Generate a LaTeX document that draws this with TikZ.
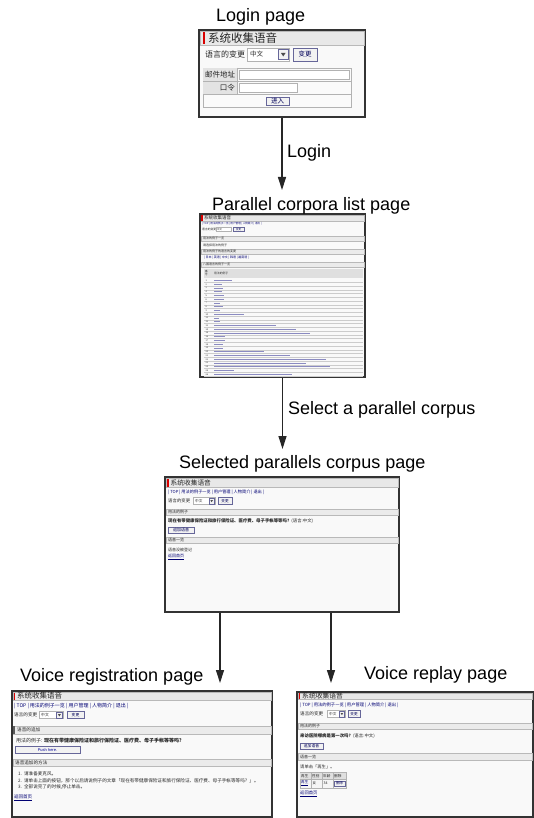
\documentclass[tikz,border=0pt]{standalone}
\usepackage{fontspec}
\setmainfont{Liberation Sans}
\newfontfamily\cjk{Noto Sans CJK SC}
\usetikzlibrary{arrows.meta}
\newcommand\zhs[1]{\cjk\fontsize{#1}{#1}\selectfont}
\tikzset{
 shot/.style={draw=black!80, line width=1.1pt, fill=gray!5, inner sep=0pt},
 tbar/.style={fill=gray!18, draw=gray!55, line width=0.3pt},
 redbar/.style={fill=red!85!black, draw=none},
 band/.style={fill=gray!16, draw=gray!55, line width=0.3pt},
 field/.style={fill=white, draw=gray!60, line width=0.3pt},
 btn/.style={fill=gray!10, draw=blue!20!gray, line width=0.4pt},
 ttl/.style={anchor=west, inner sep=0pt, font=\fontsize{18}{20}\selectfont},
 arr/.style={draw=black!85, line width=1.2pt, -{Triangle[length=13pt,width=8pt]}},
 zh/.style={anchor=west, inner sep=0pt, text=black!85},
 lnk/.style={anchor=west, inner sep=0pt, text=blue!45!black},
 ctr/.style={inner sep=0pt, text=blue!35!black},
 tri/.style={fill=black!70},
 rowlink/.style={draw=blue!30!gray!70, line width=0.8pt},
}
\begin{document}
\begin{tikzpicture}[x=1pt,y=-1pt]
\useasboundingbox[fill=white] (0,0) rectangle (534,818);

% ---------- screenshot frames ----------
\node[shot, minimum width=166pt, minimum height=87pt] (login) at (282,73.5) {};
\node[shot, minimum width=165pt, minimum height=163pt] (list) at (282.5,295.5) {};
\node[shot, minimum width=234pt, minimum height=135pt] (sel) at (282,544.5) {};
\node[shot, minimum width=260pt, minimum height=126pt] (vreg) at (142,754) {};
\node[shot, minimum width=236pt, minimum height=125pt] (vrep) at (415,754.5) {};

% ---------- login page ----------
\path[tbar] (200,31) rectangle (364,45);
\path[redbar] (202.5,32.5) rectangle (205,44);
\node[zh, font=\zhs{11.5}] (lgt) at (208,38) {系统收集语音};
\node[zh, font=\zhs{8}] (lgl) at (205,54.5) {语言的变更};
\path[field] (247,48) rectangle (289,61);
\node[zh, font=\zhs{6.5}] (lgs) at (250,54.5) {中文};
\path[btn] (278.5,49.5) rectangle (288,59.5);
\path[tri] (281,53) -- (285.5,53) -- (283.25,56.5) -- cycle;
\path[btn] (293,48) rectangle (317,61);
\node[ctr, font=\zhs{6.5}] (lgb) at (305,54.5) {变更};
\path[draw=gray!60, line width=0.4pt, fill=gray!4] (203,68) rectangle (351,107);
\path[fill=gray!22] (203,68) rectangle (237,94);
\draw[gray!60, line width=0.4pt] (203,81) -- (351,81) (203,94) -- (351,94) (237,68) -- (237,94);
\node[zh, font=\zhs{7.5}] (lge) at (205,74.5) {邮件地址};
\path[field] (239,70) rectangle (349,79.5);
\node[zh, font=\zhs{7.5}, anchor=east] (lgp) at (235,87.5) {口令};
\path[field] (239,83) rectangle (297,92.5);
\path[btn] (266,97) rectangle (289,105);
\node[ctr, font=\zhs{6.5}] (lgi) at (277.5,101) {进入};

% ---------- parallel corpora list page ----------
\path[tbar] (201,215) rectangle (364,221);
\path[redbar] (201.3,215.3) rectangle (202.6,220.6);
\node[zh, font=\zhs{4.5}] (lst) at (204,218) {系统收集语音};
\node[lnk, font=\zhs{2.6}] (lsn) at (202,224) {| TOP | 用法的例子一览 | 用户管理 | 人物简介 | 退出 |};
\node[zh, font=\zhs{2.8}] (lsl) at (202,229.5) {语言的变更};
\path[field] (216,227.6) rectangle (231,231.4);
\node[zh, font=\zhs{2.4}] (lss) at (217,229.5) {中文};
\path[btn] (233,227.6) rectangle (244,231.4);
\node[ctr, font=\zhs{2.4}] (lsb) at (238.5,229.5) {变更};
\path[band] (201,236) rectangle (364,241);
\node[zh, font=\zhs{3}] (ls1) at (203,238.5) {用法的例子一览};
\node[zh, font=\zhs{3}] (ls2) at (203,245) {请选择用法的例子};
\path[band] (201,249) rectangle (364,254);
\node[zh, font=\zhs{3}] (ls3) at (203,251.5) {用法的例子的语言的变更};
\node[lnk, font=\zhs{3}] (ls4) at (204,258) {| 日本 | 英语 | 中文 | 韩语 | 越南语 |};
\path[band] (201,262) rectangle (364,267);
\node[zh, font=\zhs{3}] (ls5) at (203,264.5) {八国语言的例子一览};
\path[fill=gray!25] (204,268.5) rectangle (363,278);
\node[zh, font=\zhs{2.6}, align=center] (ls6) at (205,273.2) {番\\号};
\node[zh, font=\zhs{2.8}] (ls7) at (214,273.2) {用法的例子};
\foreach \len [count=\i, evaluate=\i as \yy using 280.5+(\i-1)*3.75] in
  {18,8,9,8,10,10,6,9,6,30,5,6,62,82,96,11,11,9,9,50,76,112,92,116,20,78} {
  \draw[gray!40, line width=0.2pt] (204,\yy+1.8) -- (363,\yy+1.8);
  \node[zh, font=\zhs{2.2}] (rn\i) at (205.5,\yy) {\i};
  \draw[rowlink] (214,\yy) -- ++(\len,0);
}

% ---------- selected parallels corpus page ----------
\path[tbar] (166,478) rectangle (398,487);
\path[redbar] (166.8,478.5) rectangle (168.5,486.5);
\node[zh, font=\zhs{6.7}] (sst) at (170.5,482.5) {系统收集语音};
\node[lnk, font=\zhs{4.2}] (ssn) at (168,492) {| TOP | 用法的例子一览 | 用户管理 | 人物简介 | 退出 |};
\node[zh, font=\zhs{4.4}] (ssl) at (168,501) {语言的变更};
\path[field] (193,497.5) rectangle (215,504.5);
\node[zh, font=\zhs{3.6}] (sss) at (195,501) {中文};
\path[btn] (209,498.3) rectangle (214.3,503.7);
\path[tri] (210.3,500) -- (213,500) -- (211.65,502.2) -- cycle;
\path[btn] (218,497.5) rectangle (232,504.5);
\node[ctr, font=\zhs{3.6}] (ssb) at (225,501) {变更};
\path[band] (166,509) rectangle (398,515.5);
\node[zh, font=\zhs{4}] (ss1) at (168,512.3) {用法的例子};
\node[zh, font=\zhs{4.4}] (ss2) at (168,521) {\bfseries 现在有带健康保险证和旅行保险证、医疗费、母子手帐等等吗？\mdseries (语言:中文)};
\path[btn] (168,527) rectangle (194,533.5);
\node[ctr, font=\zhs{4}] (ss3) at (181,530.3) {追加语音};
\path[band] (166,537) rectangle (398,543.5);
\node[zh, font=\zhs{4}] (ss4) at (168,540.3) {语音一览};
\node[zh, font=\zhs{4}] (ss5) at (168,550) {语音没被登记};
\node[lnk, font=\zhs{4}] (ss6) at (168,557) {\underline{返回首页}};

% ---------- voice registration page ----------
\path[tbar] (13,692) rectangle (271,700);
\path[redbar] (13.5,692.5) rectangle (15.2,699.5);
\node[zh, font=\zhs{7.5}] (vgt) at (17,696) {系统收集语音};
\node[lnk, font=\zhs{5}] (vgn) at (14,706) {| TOP | 用法的例子一览 | 用户管理 | 人物简介 | 退出 |};
\node[zh, font=\zhs{4.6}] (vgl) at (14,715) {语言的变更};
\path[field] (39,711.5) rectangle (63,718.5);
\node[zh, font=\zhs{3.8}] (vgs) at (41,715) {中文};
\path[btn] (56.5,712.3) rectangle (62.3,717.7);
\path[tri] (57.9,714.1) -- (60.9,714.1) -- (59.4,716.4) -- cycle;
\path[btn] (67,711.5) rectangle (84,718.5);
\node[ctr, font=\zhs{3.8}] (vgb) at (75.5,715) {变更};
\path[band] (13,726) rectangle (271,734);
\path[fill=black!65] (13,726) rectangle (15,734);
\node[zh, font=\zhs{4.6}] (vg1) at (17,730) {语音的追加};
\node[zh, font=\zhs{5}] (vg2) at (16,741) {用法的例子: \bfseries 现在有带健康保险证和旅行保险证、医疗费、母子手帐等等吗？};
\path[btn] (15,746.5) rectangle (80,753.5);
\node[ctr, font=\fontsize{4}{4}\selectfont, text=blue!60!black] (vg3) at (47.5,750) {Push here.};
\path[band] (13,759) rectangle (271,766);
\node[zh, font=\zhs{4.6}] (vg4) at (15,762.5) {语音追加的方法};
\node[zh, font=\zhs{4.6}] (vg5) at (18,774) {1.\ \ 请准备麦克风。};
\node[zh, font=\zhs{4.6}] (vg6) at (18,780.5) {2.\ \ 请单击上面的按钮，那个以后请说例子的文章「现在有带健康保险证和旅行保险证、医疗费、母子手帐等等吗？」。};
\node[zh, font=\zhs{4.6}] (vg7) at (18,787) {3.\ \ 全部说完了的时候,停止单击。};
\node[lnk, font=\zhs{4.5}] (vg8) at (14,798) {\underline{返回首页}};

% ---------- voice replay page ----------
\path[tbar] (298,693) rectangle (532,699.5);
\path[redbar] (298.5,693.3) rectangle (300.2,699.2);
\node[zh, font=\zhs{6.8}] (vpt) at (302,696.3) {系统收集语音};
\node[lnk, font=\zhs{4.3}] (vpn) at (300,705) {| TOP | 用法的例子一览 | 用户管理 | 人物简介 | 退出 |};
\node[zh, font=\zhs{4.6}] (vpl) at (300,714) {语言的变更};
\path[field] (327,710.5) rectangle (345,717.5);
\node[zh, font=\zhs{3.6}] (vps) at (329,714) {中文};
\path[btn] (339.5,711.3) rectangle (344.3,716.7);
\path[tri] (340.6,713) -- (343.2,713) -- (341.9,715.1) -- cycle;
\path[btn] (348,710.5) rectangle (360,717.5);
\node[ctr, font=\zhs{3.6}] (vpb) at (354,714) {变更};
\path[band] (298,723) rectangle (532,729.5);
\node[zh, font=\zhs{4}] (vp1) at (300,726.3) {用法的例子};
\node[zh, font=\zhs{4.4}] (vp2) at (300,736) {\bfseries 来访医院哪病是第一次吗？\mdseries (语言:中文)};
\path[btn] (300,743) rectangle (323,749.5);
\node[ctr, font=\zhs{3.8}] (vp3) at (311.5,746.3) {追加语音};
\path[band] (298,753) rectangle (532,760);
\node[zh, font=\zhs{4}] (vp4) at (300,756.5) {语音一览};
\node[zh, font=\zhs{4.3}] (vp5) at (300,767) {请单击「再生」。};
\path[draw=gray!60, line width=0.3pt, fill=gray!8] (300,772.5) rectangle (346,788);
\path[fill=gray!25] (300,772.5) rectangle (346,779.5);
\draw[gray!60, line width=0.3pt] (300,779.5) -- (346,779.5) (311,772.5) -- (311,788)
  (322,772.5) -- (322,788) (333,772.5) -- (333,788);
\node[zh, font=\zhs{3.6}] (vh1) at (301,776) {再生};
\node[zh, font=\zhs{3.6}] (vh2) at (312,776) {性别};
\node[zh, font=\zhs{3.6}] (vh3) at (323,776) {年龄};
\node[zh, font=\zhs{3.6}] (vh4) at (334,776) {删除};
\node[lnk, font=\zhs{3.6}] (vd1) at (301,783.5) {\underline{再生}};
\node[zh, font=\zhs{3.6}] (vd2) at (312.5,783.5) {女};
\node[zh, font=\zhs{3.6}] (vd3) at (323.5,783.5) {34};
\path[btn] (334,780.8) rectangle (345,786.2);
\node[ctr, font=\zhs{3.4}] (vd4) at (339.5,783.5) {删除};
\node[lnk, font=\zhs{4.3}] (vp6) at (300,794) {\underline{返回首页}};

% ---------- titles and labels ----------
\node[ttl] (tlogin) at (216,17) {Login page};
\node[ttl] (tlist) at (212,206) {Parallel corpora list page};
\node[ttl] (tsel) at (179,464) {Selected parallels corpus page};
\node[ttl] (treg) at (20,677) {Voice registration page};
\node[ttl] (trep) at (364,675) {Voice replay page};
\node[ttl] (llogin) at (287,153) {Login};
\node[ttl] (lselect) at (288,410) {Select a parallel corpus};

% ---------- connectors ----------
\coordinate (t1) at (282,190);
\coordinate (t2) at (282.5,449);
\coordinate (t3) at (220,683);
\coordinate (t4) at (331,683);
\draw[arr] (login.south) -- (t1);
\draw[arr] (list.south) -- (t2);
\draw[arr] (sel.south -| t3) -- (t3);
\draw[arr] (sel.south -| t4) -- (t4);
\end{tikzpicture}
\end{document}
